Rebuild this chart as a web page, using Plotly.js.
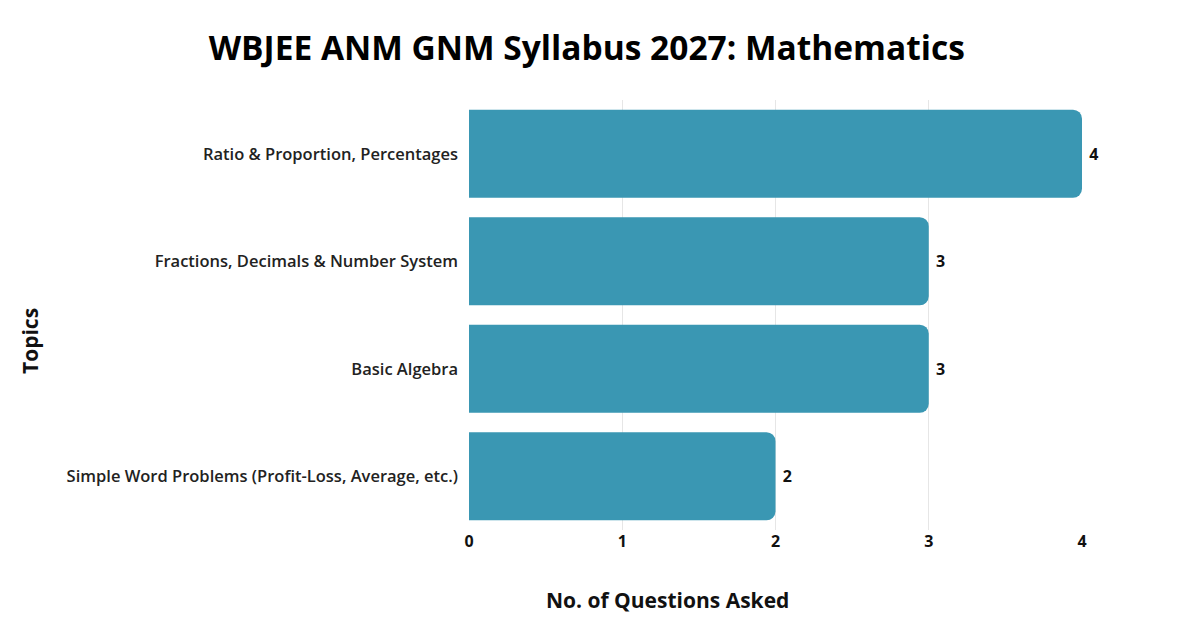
<!DOCTYPE html>
<html>
<head>
<meta charset="utf-8">
<script src="https://cdn.plot.ly/plotly-3.0.1.min.js"></script>
<style>html,body{margin:0;padding:0;background:#fff;}#chart{width:1200px;height:638px;}</style>
</head>
<body>
<div id="chart"></div>
<script>
const topics = [
  "Simple Word Problems (Profit-Loss, Average, etc.)",
  "Basic Algebra",
  "Fractions, Decimals & Number System",
  "Ratio & Proportion, Percentages"
];
const questions = [2, 3, 3, 4];
const xTicks = [0, 1, 2, 3, 4];

const FONT = "Open Sans, Noto Sans, sans-serif";

const trace = {
  type: "bar",
  orientation: "h",
  y: topics,
  x: questions,
  marker: { color: "#3A97B3" },
  texttemplate: " %{x}",
  textposition: "outside",
  constraintext: "none",
  cliponaxis: false,
  textfont: { family: FONT, size: 16, color: "#111", weight: 700 },
  outsidetextfont: { family: FONT, size: 16, color: "#111", weight: 700 },
  hoverinfo: "none"
};

const layout = {
  width: 1200,
  height: 638,
  paper_bgcolor: "#fff",
  plot_bgcolor: "#fff",
  margin: { l: 469, r: 118, t: 100, b: 108 },
  bargap: 0.18,
  barcornerradius: 9,
  uniformtext: { mode: false },
  title: {
    text: "WBJEE ANM GNM Syllabus 2027: Mathematics",
    font: { family: FONT, size: 33.5, color: "#000", weight: 700 },
    x: 0.489, xanchor: "center", y: 0.925, yanchor: "middle"
  },
  xaxis: {
    range: [0, 4],
    tickvals: xTicks,
    showgrid: true,
    gridcolor: "#e6e6e6",
    zeroline: false,
    showline: false,
    tickfont: { family: FONT, size: 16, color: "#111", weight: 700 },
    ticks: "",
    ticklabelstandoff: 0
  },
  yaxis: {
    showgrid: false,
    zeroline: false,
    showline: false,
    ticks: "",
    ticklabelstandoff: 10,
    tickfont: { family: FONT, size: 16.5, color: "#222", weight: 600 }
  },
  annotations: [
    {
      text: "No. of Questions Asked",
      xref: "paper", yref: "paper",
      x: (667 - 469) / (1082 - 469), y: (530 - 600) / 430,
      xanchor: "center", yanchor: "middle",
      showarrow: false,
      font: { family: FONT, size: 21, color: "#111", weight: 700 }
    },
    {
      text: "Topics",
      xref: "paper", yref: "paper",
      x: (30 - 469) / (1082 - 469), y: (530 - 341) / 430,
      xanchor: "center", yanchor: "middle",
      textangle: -90,
      showarrow: false,
      font: { family: FONT, size: 21, color: "#111", weight: 700 }
    }
  ],
  showlegend: false
};

Plotly.newPlot("chart", [trace], layout, { displayModeBar: false, staticPlot: true });
</script>
</body>
</html>
